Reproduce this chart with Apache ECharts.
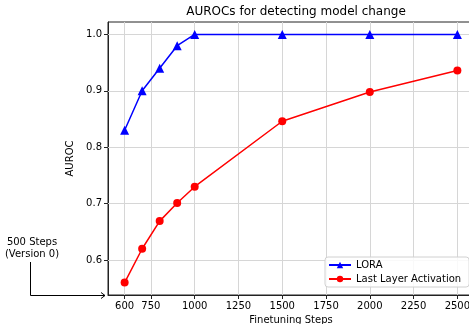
<!DOCTYPE html>
<html>
<head>
<meta charset="utf-8">
<script src="https://cdn.jsdelivr.net/npm/echarts@6/dist/echarts.min.js"></script>
<style>
  html, body { margin: 0; background: #fff; }
  #chart { width: 469px; height: 324px; }
</style>
</head>
<body>
<div id="chart"></div>
<script>
// data
const steps = [600, 700, 800, 900, 1000, 1500, 2000, 2500];
const loraAuroc = [0.83, 0.90, 0.94, 0.98, 1.0, 1.0, 1.0, 1.0];
const lastLayerAuroc = [0.56, 0.62, 0.669, 0.701, 0.73, 0.846, 0.898, 0.936];
const xTicks = [600, 750, 1000, 1250, 1500, 1750, 2000, 2250, 2500];
const yTicks = [0.6, 0.7, 0.8, 0.9, 1.0];
const seriesNames = ['LORA', 'Last Layer Activation'];

const font = 'DejaVu Sans';
const chart = echarts.init(document.getElementById('chart'));

const pairs = (ys) => steps.map((s, i) => [s, ys[i]]);
const grid = {color: '#d6d6d6', width: 1, type: 'solid'};

chart.setOption({
  animation: false,
  textStyle: {fontFamily: font},
  title: {
    text: 'AUROCs for detecting model change',
    left: 291, top: 1, padding: 5, textAlign: 'center',
    textStyle: {fontFamily: font, fontSize: 12, fontWeight: 'normal', color: '#000'}
  },
  grid: {
    left: 108, top: 22, width: 366, bottom: 29,
    outerBoundsMode: 'none', containLabel: false,
    show: true, borderColor: '#222', borderWidth: 1
  },
  legend: {
    data: seriesNames,
    orient: 'vertical',
    left: 325, top: 257,
    padding: [3, 8, 3, 3],
    itemGap: 4,
    itemWidth: 22, itemHeight: 8,
    selectedMode: false,
    backgroundColor: 'rgba(255,255,255,0.85)',
    borderColor: '#d0d0d0', borderWidth: 1, borderRadius: 3,
    textStyle: {fontFamily: font, fontSize: 10, color: '#000'}
  },
  xAxis: {
    type: 'value', min: 505, max: 2595,
    name: 'Finetuning Steps', nameLocation: 'middle', nameGap: 17,
    nameTextStyle: {fontFamily: font, fontSize: 10, color: '#000'},
    axisLine: {lineStyle: {color: '#222'}},
    axisTick: {show: true, length: 4, customValues: xTicks, lineStyle: {color: '#222'}},
    axisLabel: {customValues: xTicks, margin: 6, fontSize: 10, color: '#000', fontFamily: font,
      formatter: (v) => String(v)},
    splitLine: {show: false}
  },
  yAxis: {
    type: 'value', min: 0.538, max: 1.022,
    name: 'AUROC', nameLocation: 'middle', nameGap: 28,
    nameTextStyle: {fontFamily: font, fontSize: 10, color: '#000'},
    axisLine: {show: true, lineStyle: {color: '#222'}},
    axisTick: {show: true, length: 4, customValues: yTicks, lineStyle: {color: '#222'}},
    axisLabel: {customValues: yTicks, margin: 6, fontSize: 10, color: '#000', fontFamily: font,
      formatter: (v) => v.toFixed(1)},
    splitLine: {show: false}
  },
  series: [
    {
      name: 'gridlines', type: 'line', data: [], z: 1, silent: true,
      markLine: {
        z: 1, silent: true, symbol: 'none', label: {show: false},
        lineStyle: grid,
        data: xTicks.map(v => ({xAxis: v})).concat(yTicks.map(v => ({yAxis: v})))
      }
    },
    {
      name: seriesNames[0], type: 'line', z: 10,
      data: pairs(loraAuroc),
      color: '#0000ff',
      symbol: 'triangle', symbolSize: 9,
      itemStyle: {borderWidth: 0},
      lineStyle: {width: 1.5}
    },
    {
      name: seriesNames[1], type: 'line', z: 10,
      data: pairs(lastLayerAuroc),
      color: '#ff0000',
      symbol: 'circle', symbolSize: 8,
      itemStyle: {borderWidth: 0},
      lineStyle: {width: 1.5}
    }
  ],
  graphic: [
    {type: 'text', x: 32, y: 242, style: {text: '500 Steps', font: '10px "DejaVu Sans"', fill: '#000', align: 'center', verticalAlign: 'middle'}},
    {type: 'text', x: 32, y: 254, style: {text: '(Version 0)', font: '10px "DejaVu Sans"', fill: '#000', align: 'center', verticalAlign: 'middle'}},
    {type: 'polyline', shape: {points: [[30.5, 262], [30.5, 295.5], [105, 295.5]]}, style: {stroke: '#000', lineWidth: 1, fill: null}},
    {type: 'polyline', shape: {points: [[101, 292.5], [105, 295.5], [101, 298.5]]}, style: {stroke: '#000', lineWidth: 1, fill: null}}
  ]
});
</script>
</body>
</html>
